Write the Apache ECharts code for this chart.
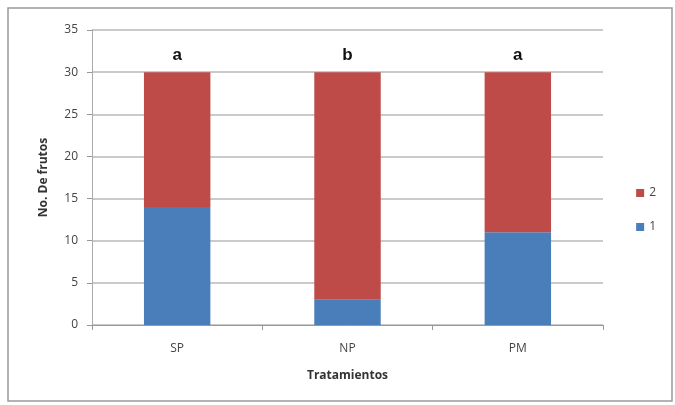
<!DOCTYPE html>
<html><head><meta charset="utf-8">
<script src="https://cdn.jsdelivr.net/npm/echarts@6/dist/echarts.min.js"></script>
<style>html,body{margin:0;padding:0;background:#fff}#c{width:675px;height:405px}</style>
</head><body><div id="c"></div>
<script>
const categories = ['SP', 'NP', 'PM'];
const series1 = [14, 3, 11];
const series2 = [16, 27, 19];
const groupLetters = ['a', 'b', 'a'];
const yTicks = [0, 35, 5];

const chart = echarts.init(document.getElementById('c'));
chart.setOption({
  animation: false,
  backgroundColor: '#fff',
  textStyle: { fontFamily: 'Open Sans' },
  grid: { left: 92, right: 72, top: 30, bottom: 80 },
  graphic: [{
    type: 'rect', shape: { x: 8, y: 8, width: 664, height: 393 },
    style: { fill: 'none', stroke: '#9a9a9a', lineWidth: 1.5 }, silent: true
  }],
  legend: {
    orient: 'vertical', right: 14, top: 182, itemGap: 22,
    itemWidth: 8, itemHeight: 8, icon: 'rect',
    data: ['2', '1'],
    textStyle: { color: '#444', fontSize: 12, fontFamily: 'Open Sans' }
  },
  xAxis: {
    type: 'category', data: categories,
    name: 'Tratamientos', nameLocation: 'middle', nameGap: 45,
    nameTextStyle: { color: '#333', fontSize: 12, fontWeight: 'bold' },
    axisLine: { lineStyle: { color: '#999' } },
    axisTick: { show: true, length: 5, lineStyle: { color: '#999' } },
    axisLabel: { color: '#444', fontSize: 12, margin: 18 }
  },
  yAxis: {
    type: 'value', min: yTicks[0], max: yTicks[1], interval: yTicks[2],
    name: 'No. De frutos', nameLocation: 'middle', nameGap: 42,
    nameTextStyle: { color: '#333', fontSize: 12, fontWeight: 'bold' },
    axisLine: { show: true, lineStyle: { color: '#aaa' } },
    axisTick: { show: true, length: 5, lineStyle: { color: '#999' } },
    axisLabel: { color: '#444', fontSize: 12, margin: 14 },
    splitLine: { lineStyle: { color: '#b8b8b8', width: 1.5 } }
  },
  series: [
    { name: '1', type: 'bar', stack: 't', data: series1, barWidth: '39%',
      itemStyle: { color: '#4a7ebb' } },
    { name: '2', type: 'bar', stack: 't', data: series2, barWidth: '39%',
      itemStyle: { color: '#be4b48' },
      label: { show: true, position: 'top', distance: 8,
        formatter: p => groupLetters[p.dataIndex],
        color: '#111', fontSize: 17, fontWeight: 'bold', fontFamily: 'Liberation Sans' } }
  ]
});
</script></body></html>
